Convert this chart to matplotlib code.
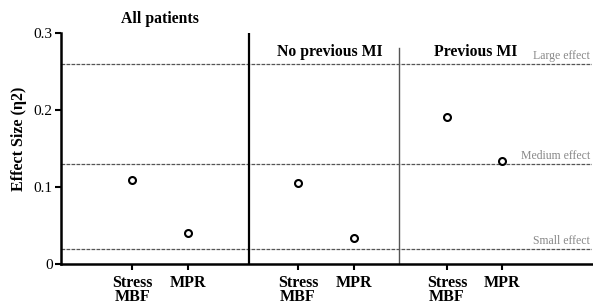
import matplotlib
matplotlib.use("Agg")
import matplotlib.pyplot as plt

# ── DATA ──────────────────────────────────────────────────────────────────────
groups = ["All patients", "No previous MI", "Previous MI"]
tick_labels = ["Stress\nMBF", "MPR", "Stress\nMBF", "MPR", "Stress\nMBF", "MPR"]
effect_size = [0.109, 0.040, 0.105, 0.034, 0.191, 0.134]

thresholds = [0.26, 0.13, 0.02]
threshold_labels = ["Large effect", "Medium effect", "Small effect"]

# ── STYLE ─────────────────────────────────────────────────────────────────────
plt.rcParams["font.family"] = ["Liberation Serif", "DejaVu Serif"]

positions = [1.27, 2.27, 4.23, 5.23, 6.89, 7.88]
separators = [3.36, 6.04]
group_centres = [1.77, 4.80, 7.41]
title_heights = [0.313, 0.270, 0.270]

fig = plt.figure(figsize=(5.93, 3.05), dpi=100)
ax = fig.add_axes([0.1029, 0.1344, 0.8954, 0.7574])

ax.set_xlim(0, 9.48)
ax.set_ylim(0, 0.3)

# effect-size reference lines
for y, lab in zip(thresholds, threshold_labels):
    ax.axhline(y, color="#555555", linewidth=0.9, linestyle=(0, (3, 1)), zorder=1)
    ax.text(9.44, y + 0.006, lab, ha="right", va="baseline",
            fontsize=8.5, color="#888888")

# group separators
ax.axvline(separators[0], color="black", linewidth=1.6, zorder=2)
ax.axvline(separators[1], ymin=0, ymax=0.935, color="#555555", linewidth=1.0, zorder=2)

# points
ax.plot(positions, effect_size, linestyle="none", marker="o", markersize=5,
        markerfacecolor="white", markeredgecolor="black", markeredgewidth=1.5,
        zorder=4)

# group titles
for name, xc, yc in zip(groups, group_centres, title_heights):
    ax.text(xc, yc, name, ha="center", va="baseline",
            fontsize=11.3, fontweight="bold", clip_on=False)

ax.set_xticks(positions)
ax.set_xticklabels(tick_labels, fontsize=11.5, fontweight="bold", va="top",
                   linespacing=0.82)
ax.set_yticks([0, 0.1, 0.2, 0.3])
ax.set_yticklabels(["0", "0.1", "0.2", "0.3"], fontsize=11)
ax.tick_params(axis="both", direction="out", length=4, width=1.5, pad=2)
ax.tick_params(axis="x", pad=4)

ax.set_ylabel("Effect Size (η2)", fontsize=11.5, fontweight="bold")
ax.yaxis.set_label_coords(-0.064, 0.541)

for side in ["top", "right"]:
    ax.spines[side].set_visible(False)
ax.spines["left"].set_linewidth(1.8)
ax.spines["bottom"].set_linewidth(1.8)

fig.savefig("out.png", dpi=100)
